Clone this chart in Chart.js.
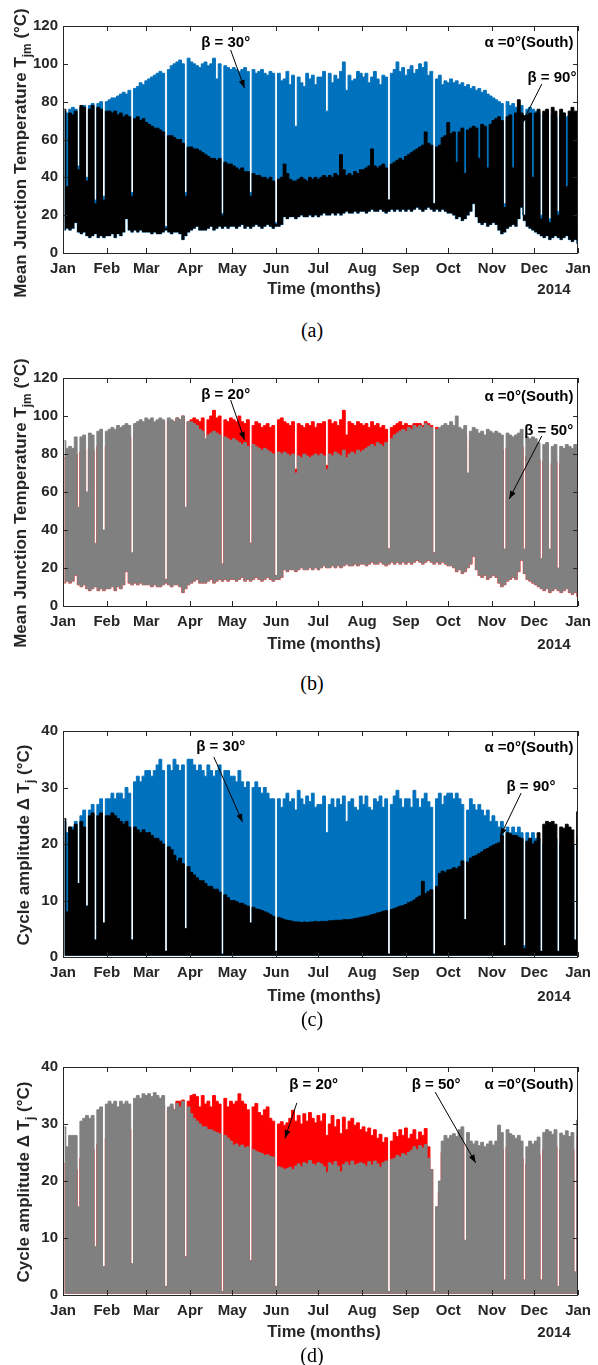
<!DOCTYPE html>
<html>
<head>
<meta charset="utf-8">
<script src="https://cdn.jsdelivr.net/npm/chart.js@4.4.1/dist/chart.umd.min.js"></script>
<style>
  body { margin: 0; background: #fff; }
  #page { position: relative; width: 598px; height: 1365px; overflow: hidden; }
  .panel { position: absolute; left: 0; width: 598px; }
  .txt { position: absolute; white-space: nowrap; line-height: 1; color: #262626;
         font-family: "Liberation Sans", Arial, sans-serif; font-weight: bold; }
  .ytitle { font-size: 17px; transform: translate(-50%, -50%) rotate(-90deg); }
  .ytitle sub { font-size: 70%; vertical-align: baseline; position: relative; top: 0.38em; }
  .xtitle { font-size: 16.5px; transform: translate(-50%, -50%); }
  .year { font-size: 15px; transform: translate(-50%, -50%); }
  .cap { font-family: "Liberation Serif", "Times New Roman", serif; font-weight: normal;
         font-size: 20px; color: #000; transform: translate(-50%, -50%); }
</style>
</head>
<body>
<div id="page">
  <div class="panel" style="top:0px"><canvas id="chartA" width="598" height="283"></canvas></div>
  <div class="panel" style="top:352px"><canvas id="chartB" width="598" height="284"></canvas></div>
  <div class="panel" style="top:705px"><canvas id="chartC" width="598" height="282"></canvas></div>
  <div class="panel" style="top:1041px"><canvas id="chartD" width="598" height="284"></canvas></div>

  <div class="txt ytitle" style="left:20px;top:153px">Mean Junction Temperature T<sub>jm</sub> (°C)</div>
  <div class="txt xtitle" style="left:324px;top:288px">Time (months)</div>
  <div class="txt year" style="left:554px;top:288px">2014</div>
  <div class="txt cap" style="left:312px;top:330px">(a)</div>

  <div class="txt ytitle" style="left:20px;top:503px">Mean Junction Temperature T<sub>jm</sub> (°C)</div>
  <div class="txt xtitle" style="left:324px;top:643px">Time (months)</div>
  <div class="txt year" style="left:554px;top:643px">2014</div>
  <div class="txt cap" style="left:312px;top:683px">(b)</div>

  <div class="txt ytitle" style="left:23px;top:845px">Cycle amplitude Δ T<sub>j</sub> (°C)</div>
  <div class="txt xtitle" style="left:324px;top:995px">Time (months)</div>
  <div class="txt year" style="left:554px;top:995px">2014</div>
  <div class="txt cap" style="left:312px;top:1019px">(c)</div>

  <div class="txt ytitle" style="left:23px;top:1182px">Cycle amplitude Δ T<sub>j</sub> (°C)</div>
  <div class="txt xtitle" style="left:324px;top:1331px">Time (months)</div>
  <div class="txt year" style="left:554px;top:1331px">2014</div>
  <div class="txt cap" style="left:312px;top:1355px">(d)</div>
</div>

<script>
// x axis: days of 2013, month starts
const monthStartDays = [0, 31, 59, 90, 120, 151, 181, 212, 243, 273, 304, 334, 365];
const monthLabels = ['Jan', 'Feb', 'Mar', 'Apr', 'May', 'Jun', 'Jul', 'Aug', 'Sep', 'Oct', 'Nov', 'Dec', 'Jan'];
const STEP = 2; // one sample every 2 days (daily max / min)

// daily minimum of mean junction temperature (same for every tilt), panels a and b
const tjmMin = [
  12, 13, 12, 13, 16, 11, 10, 11, 9, 8, 9, 10, 8, 9, 8, 9,            // Jan
  9, 10, 8, 10, 9, 11, 18, 12, 11, 12, 11, 12, 11, 11,                // Feb
  11, 10, 11, 10, 10, 11, 12, 11, 10, 11, 11, 10, 7, 9, 11,           // Mar
  12, 13, 14, 12, 12, 12, 13, 14, 12, 13, 14, 13, 14, 13, 14,         // Apr
  14, 13, 14, 15, 13, 14, 13, 14, 15, 14, 13, 14, 15, 14, 13, 14,     // May
  14, 15, 19, 18, 19, 19, 18, 19, 20, 19, 19, 20, 19, 20, 19,         // Jun
  20, 21, 20, 20, 21, 20, 21, 20, 21, 22, 21, 21, 22, 21, 22,         // Jul
  22, 21, 22, 23, 22, 22, 23, 22, 21, 22, 23, 22, 23, 22, 23, 22,     // Aug
  23, 22, 23, 24, 23, 22, 23, 24, 23, 22, 23, 22, 23, 22, 21,         // Sep
  21, 20, 18, 19, 17, 18, 20, 22, 26, 19, 16, 15, 16, 14, 15, 16,     // Oct
  15, 12, 10, 11, 13, 14, 15, 14, 18, 24, 17, 14, 13, 12, 11,         // Nov
  10, 9, 8, 9, 7, 8, 9, 8, 7, 8, 9, 7, 6, 7, 5                        // Dec
];

// (a) daily maximum, beta = 30 deg
const tjmMaxA30 = [
  75, 74, 76, 77, 76, 46, 77, 78, 40, 78, 79, 28, 79, 80, 30, 80,
  81, 82, 82, 83, 84, 85, 84, 86, 32, 87, 88, 90, 89, 91,
  92, 93, 94, 95, 96, 95, 14, 97, 99, 100, 101, 102, 100, 32, 103,
  101, 100, 99, 98, 100, 101, 99, 100, 103, 92, 100, 21, 99, 98, 97,
  98, 97, 96, 97, 98, 96, 32, 97, 95, 96, 97, 95, 94, 96, 95, 16,
  95, 91, 92, 96, 89, 94, 67, 93, 90, 88, 95, 92, 94, 89, 93,
  93, 96, 75, 95, 90, 94, 92, 96, 101, 86, 94, 91, 92, 96, 95,
  93, 95, 90, 93, 96, 92, 89, 94, 93, 28, 95, 97, 101, 96, 98, 94,
  97, 99, 95, 97, 100, 98, 101, 94, 96, 26, 92, 94, 89, 91, 90,
  92, 90, 91, 89, 90, 88, 89, 87, 88, 86, 87, 85, 86, 84, 83, 82,
  81, 80, 79, 26, 80, 78, 79, 77, 78, 78, 20, 76, 77, 76, 75,
  74, 20, 73, 74, 18, 73, 72, 22, 73, 74, 72, 73, 72, 74, 15
];

// (a) daily maximum, beta = 90 deg
const tjmMaxA90 = [
  76, 35, 74, 73, 75, 44, 78, 77, 38, 76, 78, 26, 77, 76, 28, 75,
  75, 74, 75, 73, 74, 72, 73, 72, 30, 71, 72, 70, 71, 69,
  68, 67, 66, 66, 65, 64, 13, 62, 62, 61, 60, 60, 58, 30, 56,
  56, 55, 55, 54, 53, 52, 51, 50, 50, 49, 50, 20, 48, 47, 47,
  46, 45, 44, 45, 43, 43, 30, 42, 41, 41, 40, 40, 39, 40, 38, 15,
  39, 40, 47, 42, 39, 38, 38, 39, 40, 39, 38, 40, 39, 40, 39,
  40, 41, 40, 41, 40, 42, 41, 52, 44, 41, 42, 41, 43, 42, 44,
  44, 45, 46, 55, 46, 45, 46, 47, 45, 28, 47, 48, 49, 50, 49, 51,
  52, 53, 54, 55, 56, 57, 64, 58, 57, 26, 56, 57, 61, 62, 69,
  63, 64, 48, 64, 66, 42, 65, 66, 67, 66, 50, 68, 67, 45, 68, 70,
  71, 72, 70, 24, 72, 73, 45, 74, 81, 74, 20, 73, 74, 40, 74,
  76, 18, 75, 76, 16, 77, 75, 20, 76, 74, 35, 75, 77, 75, 14
];

// (b) daily maximum, beta = 20 deg
const tjmMaxB20 = [
  78, 75, 76, 75, 80, 48, 81, 82, 55, 83, 82, 30, 84, 85, 36, 84,
  86, 87, 86, 88, 88, 89, 90, 89, 26, 91, 92, 94, 93, 95,
  95, 96, 95, 96, 97, 97, 14, 98, 97, 97, 99, 98, 100, 50, 97,
  98, 99, 98, 97, 99, 82, 98, 100, 103, 99, 100, 22, 98, 97, 99,
  98, 97, 100, 97, 96, 98, 33, 95, 97, 96, 94, 95, 96, 94, 95, 16,
  98, 99, 97, 96, 95, 97, 72, 96, 95, 94, 96, 95, 97, 94, 96,
  96, 97, 74, 98, 96, 97, 95, 98, 103, 90, 97, 96, 95, 97, 96,
  95, 96, 94, 97, 95, 96, 94, 95, 93, 30, 94, 95, 96, 97, 95, 96,
  95, 95, 96, 96, 96, 95, 97, 96, 95, 28, 94, 93, 94, 93, 92,
  91, 90, 94, 89, 88, 90, 66, 87, 88, 87, 85, 86, 84, 86, 85, 84,
  84, 83, 82, 28, 83, 82, 80, 81, 82, 84, 28, 79, 78, 79, 78,
  77, 23, 76, 77, 27, 75, 76, 18, 75, 74, 76, 75, 74, 76, 14
];

// (b) daily maximum, beta = 50 deg
const tjmMaxB50 = [
  87, 83, 84, 83, 89, 52, 89, 90, 60, 91, 90, 33, 92, 93, 40, 92,
  93, 94, 93, 95, 94, 95, 96, 95, 28, 96, 97, 98, 97, 99,
  98, 99, 97, 98, 99, 98, 14, 99, 98, 97, 99, 98, 100, 52, 97,
  97, 96, 95, 93, 92, 88, 90, 91, 92, 91, 90, 22, 89, 88, 87,
  88, 87, 86, 85, 86, 84, 33, 85, 84, 83, 82, 83, 82, 81, 80, 16,
  81, 80, 81, 80, 79, 80, 70, 79, 78, 80, 79, 78, 79, 80, 79,
  80, 79, 72, 80, 79, 81, 80, 79, 82, 78, 80, 81, 80, 82, 81,
  82, 83, 84, 85, 84, 86, 85, 84, 86, 30, 88, 90, 91, 92, 93, 92,
  94, 93, 95, 94, 95, 94, 96, 95, 94, 28, 93, 94, 95, 96, 95,
  97, 95, 100, 94, 93, 95, 70, 92, 94, 93, 91, 92, 90, 93, 92, 91,
  92, 91, 90, 30, 91, 90, 89, 90, 91, 93, 30, 89, 88, 89, 88,
  86, 25, 85, 86, 30, 84, 85, 20, 84, 83, 85, 84, 83, 85, 15
];

// cycle amplitude: the daily floor is close to zero
const ampFloor = 0.2;

// (c) daily cycle amplitude, beta = 30 deg
const dTjC30 = [
  24, 22, 23, 23, 24, 13, 25, 26, 9, 26, 27, 3, 27, 28, 6, 28,
  28, 29, 28, 29, 29, 28, 30, 29, 3, 31, 32, 31, 32, 33,
  33, 32, 33, 34, 35, 33, 1, 34, 33, 35, 34, 33, 34, 5, 35,
  35, 34, 33, 34, 33, 32, 34, 33, 32, 33, 34, 0.5, 33, 33, 32,
  32, 31, 33, 31, 30, 31, 6, 30, 31, 30, 29, 30, 29, 28, 28, 1,
  28, 26.5, 28, 29, 27.5, 28, 26, 29.5, 28, 27, 28.5, 27.5, 29, 26.5, 27,
  27, 28.5, 22, 27, 28, 26.5, 28, 27, 28.5, 24, 27.5, 28, 26.5, 26, 28.5,
  27, 28.5, 26.5, 26, 28, 27.5, 28.5, 26.5, 28, 0.5, 27, 28.5, 29.5, 28, 26.5, 28,
  28, 26.5, 29.5, 28, 26.5, 28, 29, 27.5, 26.5, 0.5, 28, 29, 27, 28.5, 29,
  29, 28, 29, 28, 27, 6.6, 26, 28, 27, 26, 27, 26, 25, 26, 24, 25,
  24, 23, 24, 2, 23, 22, 23, 22, 23, 22, 2, 22, 21, 22, 21,
  21, 1, 20, 21, 20.5, 20, 21, 1, 20, 21, 20, 21, 20, 3, 21
];

// (c) daily cycle amplitude, beta = 90 deg
const dTjC90 = [
  24.5, 8, 23, 22.5, 23.5, 13, 24, 23, 9, 25, 25.5, 3, 25, 25.5, 6, 25,
  25, 25.5, 25, 24.5, 24, 23.5, 24, 23, 3, 23, 22.5, 22, 22.5, 22,
  22, 21.5, 21, 21, 20.5, 20, 1, 19.5, 19, 18, 17, 17.5, 16.5, 5, 16,
  15, 14.5, 14, 13.5, 13.5, 13, 12.5, 12.5, 12, 12, 11.5, 0.5, 11, 10.5, 10,
  10, 9.8, 9.5, 9.5, 9.2, 9, 6, 8.8, 8.5, 8.4, 8.2, 8, 7.8, 7.5, 7.2, 1,
  7, 6.8, 6.6, 6.5, 6.4, 6.3, 6.2, 6.2, 6.1, 6.2, 6.1, 6.2, 6.2, 6.3, 6.2,
  6.3, 6.3, 6.3, 6.4, 6.4, 6.5, 6.5, 6.5, 6.6, 6.6, 6.6, 6.7, 6.8, 6.9, 7,
  7.1, 7.2, 7.3, 7.5, 7.6, 7.8, 7.9, 8.1, 8.2, 0.5, 8.4, 8.6, 8.8, 9, 9.1, 9.3,
  9.6, 9.8, 10.1, 10.5, 10.8, 13.4, 11.2, 11.6, 11.9, 0.5, 12.5, 14.8, 15.2, 15, 15.4,
  15.5, 15.8, 15.6, 16, 17, 6.6, 16.8, 17.5, 17.8, 18, 18.3, 18.6, 19, 19.2, 19.5, 19.8,
  20, 20.2, 21.5, 2, 22, 21.8, 21.5, 21.5, 21.2, 21, 1.5, 20.5, 21, 20, 20.5,
  22, 1, 23.5, 24, 23.8, 24, 23.5, 1, 23, 22.8, 23.5, 23, 22.5, 3, 25.7
];

// (d) daily cycle amplitude, beta = 20 deg
const dTjD20 = [
  23, 20, 22, 22, 22, 12, 24, 25, 25.5, 25, 25.5, 7, 26.5, 27, 4, 27.5,
  28, 28, 28.5, 28, 29, 28.5, 29, 29, 5, 30, 30.5, 30.5, 31.5, 31.5,
  32, 32, 33, 32.8, 32.5, 33.3, 1.5, 32.5, 33, 32.5, 34, 34, 34.2, 6.7, 34,
  35, 35.2, 34.8, 33, 35, 33.5, 34, 33, 35, 34, 33.5, 0.6, 34.5, 33, 34,
  33.5, 34, 35.3, 34, 33.5, 32.5, 6, 33, 33.6, 32, 31.5, 32.5, 33, 31, 30.5, 1.5,
  30, 30.4, 29.8, 30.2, 31, 32.4, 30.5, 31.5, 30, 31.8, 30.5, 32, 31, 30.2, 31.5,
  30.5, 31.8, 28, 30, 31.5, 29.5, 30.8, 28.3, 31.2, 29, 30.5, 31, 29.8, 30.2, 29,
  29.5, 28.6, 29.3, 28, 29, 27.5, 28.2, 26.8, 27.6, 0.6, 27, 28.5, 27.8, 29, 28, 29.3,
  27.5, 28.2, 29, 27.3, 28.6, 28, 29.2, 26, 22, 0.6, 14, 18, 25, 26, 25.5,
  25, 25.3, 24.8, 26, 26.5, 9, 25.5, 24, 23.5, 24, 23.2, 23.8, 23, 23.5, 24, 23.3,
  24, 26.8, 25.5, 2.6, 26, 25.3, 25, 24.5, 25, 24, 2.6, 23, 24, 23.5, 24,
  24.7, 2.6, 25.5, 26, 25.7, 25.2, 26, 1.5, 25.4, 25, 25.8, 24.8, 25.5, 4, 27.7
];

// (d) daily cycle amplitude, beta = 50 deg
const dTjD50 = [
  29.5, 26, 28, 28, 28, 15.5, 30.5, 31, 31.5, 31, 31.5, 8.5, 32.5, 33, 5, 33.5,
  34, 33.5, 34, 33, 34, 33.5, 34, 33.5, 5.5, 34.5, 35, 34.5, 35.3, 35,
  35.3, 34.8, 35.5, 35, 34.5, 35, 1.5, 33, 33.5, 32.5, 33.6, 33, 34, 6.7, 33,
  31.8, 31, 30.5, 30, 29.5, 29.5, 29, 29, 28.7, 28.5, 28.3, 0.6, 28, 27.5, 27,
  26.3, 26.5, 26, 26.3, 25.8, 26, 6, 25.5, 25.2, 25, 24.8, 24.5, 24.6, 24.3, 24.2, 1.5,
  22.5, 22.3, 22, 22.2, 22.4, 22, 22.6, 23, 22.5, 23.2, 23, 23.6, 23, 22.8, 23.2,
  23, 22.5, 21.5, 23.2, 22.8, 23.4, 22.6, 21.6, 22.9, 23.3, 22.7, 23.5, 22.8, 23, 23.2,
  23, 22.6, 23.4, 22.8, 23.5, 23, 22.4, 23.2, 23.5, 0.6, 23.8, 24, 24.5, 24.2, 24.8, 24.5,
  25, 25.4, 26, 25.5, 26.2, 25.8, 26.4, 24, 22, 0.6, 15.5, 20, 27, 28, 27.5,
  28, 28.3, 27.8, 29, 29.5, 9.6, 28.5, 27, 26.5, 27, 26.2, 26.8, 26, 26.5, 27, 26.3,
  27, 29.8, 28.5, 2.6, 29, 28.3, 28, 27.5, 28, 27, 2.6, 26, 27, 26.5, 27,
  27.7, 2.6, 28.5, 29, 28.7, 28.2, 29, 1.5, 28.4, 28, 28.8, 27.8, 28.5, 4, 30.7
];

const BLUE = '#0072BD';
const BLACK = '#000000';
const RED = '#FF0000';
const GRAY = '#808080';
const AXIS = '#262626';
const FONT = '"Liberation Sans", Arial, sans-serif';

function points(arr) {
    return arr.map((v, i) => ({ x: i * STEP + 1, y: v }));
}

function band(arr, color, fillTo) {
    return {
        data: points(arr),
        borderColor: color,
        backgroundColor: color,
        borderWidth: 1,
        pointRadius: 0,
        stepped: 'middle',
        fill: fillTo
    };
}

function drawArrow(ctx, x1, y1, x2, y2) {
    ctx.beginPath();
    ctx.moveTo(x1, y1);
    ctx.lineTo(x2, y2);
    ctx.stroke();
    const a = Math.atan2(y2 - y1, x2 - x1), L = 8, W = 3;
    ctx.beginPath();
    ctx.moveTo(x2, y2);
    ctx.lineTo(x2 - L * Math.cos(a) + W * Math.sin(a), y2 - L * Math.sin(a) - W * Math.cos(a));
    ctx.lineTo(x2 - L * Math.cos(a) - W * Math.sin(a), y2 - L * Math.sin(a) + W * Math.cos(a));
    ctx.closePath();
    ctx.fill();
}

// box around the axes, inward ticks (MATLAB style) and the text notes
const boxPlugin = {
    id: 'box',
    afterDraw(chart, args, opts) {
        const { ctx, chartArea: a, scales: { x, y } } = chart;
        ctx.save();
        ctx.strokeStyle = AXIS;
        ctx.lineWidth = 1;
        ctx.strokeRect(Math.round(a.left) + 0.5, Math.round(a.top) + 0.5,
            Math.round(a.right - a.left) - 1, Math.round(a.bottom - a.top));
        ctx.beginPath();
        x.ticks.forEach(t => {
            const px = Math.round(x.getPixelForValue(t.value)) + 0.5;
            ctx.moveTo(px, a.bottom); ctx.lineTo(px, a.bottom - 5);
            ctx.moveTo(px, a.top); ctx.lineTo(px, a.top + 5);
        });
        y.ticks.forEach(t => {
            const py = Math.round(y.getPixelForValue(t.value)) + 0.5;
            ctx.moveTo(a.left, py); ctx.lineTo(a.left + 5, py);
            ctx.moveTo(a.right, py); ctx.lineTo(a.right - 5, py);
        });
        ctx.stroke();

        ctx.fillStyle = '#000';
        ctx.strokeStyle = '#000';
        ctx.font = 'bold 15px ' + FONT;
        ctx.textBaseline = 'middle';
        (opts.texts || []).forEach(n => {
            ctx.textAlign = n.align || 'center';
            ctx.fillText(n.text, x.getPixelForValue(n.day), y.getPixelForValue(n.val));
        });
        ctx.lineWidth = 1;
        (opts.arrows || []).forEach(r => {
            drawArrow(ctx, x.getPixelForValue(r[0]), y.getPixelForValue(r[1]),
                x.getPixelForValue(r[2]), y.getPixelForValue(r[3]));
        });
        ctx.restore();
    }
};

function makePanel(id, datasets, yMax, yStep, notes) {
    return new Chart(document.getElementById(id), {
        type: 'line',
        data: { datasets: datasets },
        options: {
            responsive: false,
            animation: false,
            events: [],
            layout: { padding: { top: 26, right: 13, left: 0, bottom: 0 } },
            scales: {
                x: {
                    type: 'linear', min: 0, max: 365,
                    afterBuildTicks: s => { s.ticks = monthStartDays.map(v => ({ value: v })); },
                    afterFit: s => { s.height = 30; },
                    grid: { display: false, drawTicks: false },
                    border: { display: false },
                    ticks: {
                        autoSkip: false, maxRotation: 0, padding: 7, color: AXIS,
                        font: { family: FONT, size: 15, weight: 'bold' },
                        callback: (v, i) => monthLabels[i]
                    }
                },
                y: {
                    min: 0, max: yMax,
                    afterFit: s => { s.width = 63; },
                    grid: { display: false, drawTicks: false },
                    border: { display: false },
                    ticks: {
                        stepSize: yStep, padding: 5, color: AXIS,
                        font: { family: FONT, size: 15, weight: 'bold' }
                    }
                }
            },
            plugins: {
                legend: { display: false },
                tooltip: { enabled: false },
                box: notes
            }
        },
        plugins: [boxPlugin]
    });
}

const alphaNote = 'α =0°(South)';

// (a) beta 30 vs 90, mean junction temperature
makePanel('chartA', [
    band(tjmMaxA90, BLACK, 2),
    band(tjmMaxA30, BLUE, 2),
    { data: points(tjmMin), borderColor: 'rgba(0,114,189,0.55)', borderWidth: 1,
      pointRadius: 0, stepped: 'middle', fill: false }
], 120, 20, {
    texts: [
        { day: 115.3, val: 111, text: 'β = 30°' },
        { day: 361.7, val: 111, text: alphaNote, align: 'right' },
        { day: 363.8, val: 92.5, text: 'β = 90°', align: 'right' }
    ],
    arrows: [[118.8, 107.3, 128.6, 87.2], [339.3, 89.3, 325.3, 68.7]]
});

// (b) beta 20 vs 50, mean junction temperature
makePanel('chartB', [
    band(tjmMaxB50, GRAY, 2),
    band(tjmMaxB20, RED, 2),
    { data: points(tjmMin), borderColor: 'rgba(255,0,0,0.45)', borderWidth: 1,
      pointRadius: 0, stepped: 'middle', fill: false }
], 120, 20, {
    texts: [
        { day: 115.3, val: 111, text: 'β = 20°' },
        { day: 361.7, val: 110, text: alphaNote, align: 'right' },
        { day: 344.2, val: 92.1, text: 'β = 50°' }
    ],
    arrows: [[118.8, 108.4, 128.6, 87.4], [339.3, 89.5, 316.2, 56.3]]
});

// (c) beta 30 vs 90, cycle amplitude
makePanel('chartC', [
    band(dTjC90, BLACK, { value: ampFloor }),
    band(dTjC30, BLUE, { value: ampFloor })
], 40, 10, {
    texts: [
        { day: 111.8, val: 37.2, text: 'β = 30°' },
        { day: 361.7, val: 37, text: alphaNote, align: 'right' },
        { day: 331.6, val: 30.1, text: 'β = 90°' }
    ],
    arrows: [[106.9, 35.4, 127.2, 23.9], [324.6, 29.0, 309.9, 21.4]]
});

// (d) beta 20 vs 50, cycle amplitude
makePanel('chartD', [
    band(dTjD50, GRAY, { value: ampFloor }),
    band(dTjD20, RED, { value: ampFloor })
], 40, 10, {
    texts: [
        { day: 177.6, val: 36.8, text: 'β = 20°' },
        { day: 264.4, val: 36.8, text: 'β = 50°' },
        { day: 361.7, val: 36.8, text: alphaNote, align: 'right' }
    ],
    arrows: [[165.7, 33.7, 157.3, 27.5], [263.7, 35.6, 292.4, 23.2]]
});
</script>
</body>
</html>
